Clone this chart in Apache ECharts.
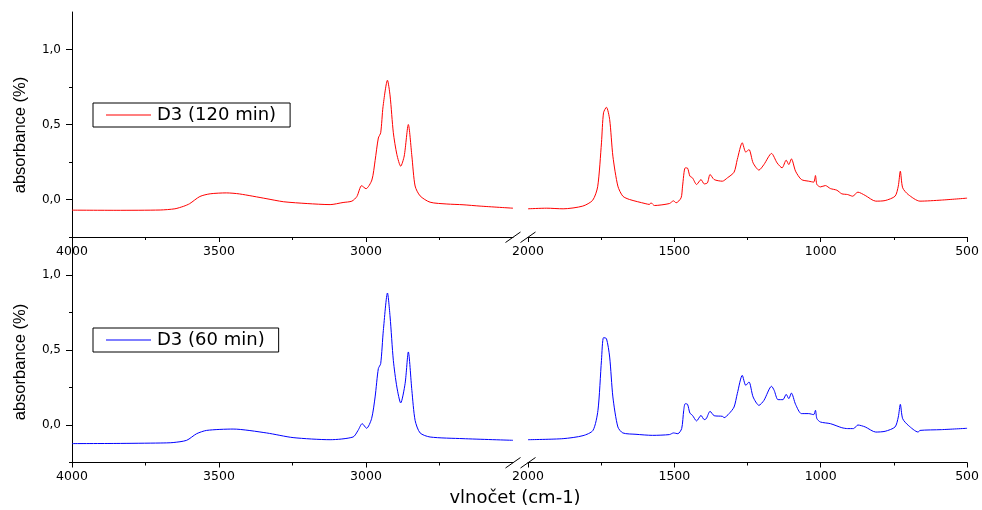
<!DOCTYPE html>
<html>
<head>
<meta charset="utf-8">
<title>FTIR D3</title>
<script src="https://cdn.jsdelivr.net/npm/echarts@6/dist/echarts.min.js"></script>
<style>
  html, body { margin: 0; padding: 0; background: #fff; }
  #main { width: 982px; height: 510px; }
</style>
</head>
<body>
<div id="main"></div>
<script>
// ---- data (wavenumber cm-1 / absorbance) ----
var wn120L = [4000, 3850, 3700, 3650, 3620, 3600, 3565, 3530, 3475, 3430, 3340, 3280, 3200, 3122, 3078, 3048, 3031, 3015, 3000, 2980, 2969, 2958, 2950, 2942, 2927, 2918, 2907, 2895, 2882, 2870, 2856, 2844, 2833, 2816, 2782, 2725, 2670, 2612, 2500];
var ab120L = [-0.071, -0.072, -0.07, -0.062, -0.045, -0.028, 0.02, 0.038, 0.044, 0.037, 0.006, -0.015, -0.027, -0.034, -0.02, -0.011, 0.02, 0.092, 0.072, 0.13, 0.26, 0.41, 0.445, 0.62, 0.795, 0.69, 0.445, 0.30, 0.222, 0.29, 0.50, 0.29, 0.09, 0.024, -0.018, -0.03, -0.035, -0.044, -0.058];
var wn120R = [2000, 1936, 1880, 1813, 1779, 1762, 1749, 1742, 1732, 1721, 1710, 1693, 1676, 1653, 1600, 1585, 1580, 1568, 1517, 1503, 1494, 1477, 1472, 1463, 1455, 1447, 1438, 1424, 1409, 1398, 1387, 1378, 1364, 1336, 1319, 1296, 1285, 1268, 1256, 1245, 1231, 1211, 1194, 1168, 1149, 1132, 1118, 1109, 1100, 1086, 1066, 1041, 1024, 1018, 1013, 1001, 984, 967, 945, 928, 908, 891, 873, 848, 812, 780, 746, 735, 728, 720, 701, 661, 588, 500];
var ab120R = [-0.062, -0.058, -0.062, -0.044, -0.005, 0.085, 0.378, 0.578, 0.615, 0.533, 0.289, 0.089, 0.022, 0.0, -0.027, -0.033, -0.022, -0.04, -0.027, -0.009, -0.022, 0.011, 0.089, 0.211, 0.209, 0.156, 0.144, 0.1, 0.133, 0.104, 0.111, 0.167, 0.133, 0.122, 0.144, 0.182, 0.267, 0.378, 0.316, 0.333, 0.244, 0.196, 0.233, 0.307, 0.244, 0.211, 0.262, 0.233, 0.271, 0.189, 0.133, 0.122, 0.116, 0.16, 0.1, 0.084, 0.093, 0.073, 0.062, 0.038, 0.033, 0.022, 0.049, 0.027, -0.011, -0.007, 0.022, 0.089, 0.189, 0.078, 0.033, -0.011, -0.004, 0.009];

var wn60L = [4000, 3850, 3700, 3656, 3610, 3576, 3542, 3452, 3338, 3248, 3122, 3044, 3027, 3013, 2998, 2981, 2969, 2958, 2950, 2941, 2927, 2918, 2907, 2895, 2882, 2867, 2856, 2844, 2833, 2816, 2782, 2670, 2500];
var ab60L = [-0.124, -0.123, -0.12, -0.117, -0.102, -0.058, -0.036, -0.027, -0.053, -0.084, -0.098, -0.08, -0.036, 0.009, -0.022, 0.042, 0.187, 0.376, 0.409, 0.631, 0.88, 0.72, 0.431, 0.253, 0.147, 0.276, 0.487, 0.231, 0.031, -0.053, -0.08, -0.091, -0.102];
var wn60R = [2000, 1880, 1812, 1778, 1761, 1749, 1742, 1732, 1721, 1710, 1693, 1676, 1631, 1575, 1517, 1503, 1488, 1475, 1468, 1463, 1455, 1447, 1438, 1424, 1409, 1398, 1391, 1378, 1364, 1336, 1330, 1313, 1296, 1285, 1268, 1256, 1245, 1231, 1211, 1194, 1168, 1159, 1146, 1129, 1118, 1109, 1100, 1086, 1066, 1041, 1024, 1018, 1013, 1001, 967, 928, 908, 888, 873, 848, 812, 780, 746, 735, 728, 720, 701, 667, 661, 588, 500];
var ab60R = [-0.098, -0.091, -0.071, -0.036, 0.098, 0.431, 0.582, 0.576, 0.453, 0.187, -0.013, -0.053, -0.062, -0.069, -0.064, -0.053, -0.058, -0.024, 0.098, 0.142, 0.138, 0.08, 0.064, 0.027, 0.064, 0.036, 0.042, 0.091, 0.062, 0.058, 0.049, 0.076, 0.12, 0.209, 0.331, 0.264, 0.287, 0.187, 0.131, 0.164, 0.258, 0.231, 0.169, 0.169, 0.204, 0.176, 0.213, 0.138, 0.076, 0.076, 0.069, 0.098, 0.042, 0.02, 0.009, -0.018, -0.024, -0.024, 0.0, -0.013, -0.047, -0.042, -0.013, 0.053, 0.138, 0.042, -0.002, -0.047, -0.036, -0.031, -0.022];

var xTicksL = [3000, 3500, 4000];
var xTicksR = [500, 1000, 1500, 2000];
var yTicks = [0, 0.5, 1.0];
var yMinor = [-0.25, 0.25, 0.75];
var name120 = 'D3 (120 min)';
var name60 = 'D3 (60 min)';

function zip(a, b) {
  var out = [];
  for (var i = 0; i < a.length; i++) out.push([a[i], b[i]]);
  return out;
}

// ---- layout ----
var LX = 72, LW = 441, RX = 528, RW = 442;
var T1 = 12, T2 = 237.5, H = 225;
var FONT = 'DejaVu Sans';

function grid(left, top, width) {
  return { left: left, top: top, width: width, height: H, containLabel: false };
}

function xAxis(gi, isLeft) {
  return {
    gridIndex: gi, type: 'value', inverse: true,
    min: isLeft ? 2500 : 500, max: isLeft ? 4000 : 2000, interval: 500,
    axisLine: { show: true, onZero: false, lineStyle: { color: '#000', width: 1 } },
    axisTick: { show: true, length: 5, customValues: isLeft ? xTicksL : xTicksR, lineStyle: { color: '#000' } },
    minorTick: { show: true, splitNumber: 2, length: 3, lineStyle: { color: '#000' } },
    axisLabel: { customValues: isLeft ? xTicksL : xTicksR, formatter: function (v) { return String(v); },
      color: '#000', fontFamily: FONT, fontSize: 12.5, margin: 8 },
    splitLine: { show: false }
  };
}

function yFmt(v) { return v.toFixed(1).replace('.', ','); }

function yMajor(gi) {
  return {
    gridIndex: gi, type: 'value', min: -0.25, max: 1.25,
    axisLine: { show: true, onZero: false, lineStyle: { color: '#000', width: 1 } },
    axisTick: { show: true, length: 6, customValues: yTicks, lineStyle: { color: '#000' } },
    axisLabel: { customValues: yTicks, formatter: yFmt, color: '#000', fontFamily: FONT, fontSize: 12, margin: 11 },
    splitLine: { show: false }
  };
}
function yMinorAxis(gi) {
  return {
    gridIndex: gi, type: 'value', min: -0.25, max: 1.25, position: 'left',
    axisLine: { show: false },
    axisTick: { show: true, length: 3, customValues: yMinor, lineStyle: { color: '#000' } },
    axisLabel: { show: false },
    splitLine: { show: false }
  };
}
function yHidden(gi) {
  return { gridIndex: gi, type: 'value', min: -0.25, max: 1.25, show: false, splitLine: { show: false } };
}

function line(name, color, xi, yi, data) {
  return {
    name: name, type: 'line', xAxisIndex: xi, yAxisIndex: yi,
    data: data, symbol: 'none', smooth: 0.25, animation: false,
    lineStyle: { color: color, width: 1 }, itemStyle: { color: color }
  };
}

function legend(name, top) {
  return {
    data: [name], left: 93, top: top, orient: 'horizontal',
    icon: 'rect', itemWidth: 45, itemHeight: 1, itemGap: 0,
    padding: [3, 14, 3, 13],
    borderColor: '#000', borderWidth: 1, borderRadius: 0, backgroundColor: '#fff',
    textStyle: { color: '#000', fontFamily: FONT, fontSize: 18, lineHeight: 17, padding: [0, 0, 0, 1] }
  };
}

function slash(cx, cy) {
  return { type: 'line', silent: true, z: 100,
    shape: { x1: cx - 7.5, y1: cy + 5.5, x2: cx + 7.5, y2: cy - 5 },
    style: { stroke: '#000', lineWidth: 1 } };
}

var chart = echarts.init(document.getElementById('main'), null, { renderer: 'canvas' });
var option = {
  backgroundColor: '#fff',
  animation: false,
  grid: [grid(LX, T1, LW), grid(RX, T1, RW), grid(LX, T2, LW), grid(RX, T2, RW)],
  xAxis: [xAxis(0, true), xAxis(1, false), xAxis(2, true), xAxis(3, false)],
  yAxis: [yMajor(0), yMinorAxis(0), yHidden(1), yMajor(2), yMinorAxis(2), yHidden(3)],
  legend: [legend(name120, 103), legend(name60, 328)],
  series: [
    line(name120, '#ff0000', 0, 0, zip(wn120L, ab120L)),
    line(name120, '#ff0000', 1, 2, zip(wn120R, ab120R)),
    line(name60, '#0000ff', 2, 3, zip(wn60L, ab60L)),
    line(name60, '#0000ff', 3, 5, zip(wn60R, ab60R))
  ],
  graphic: [
    slash(LX + LW, T1 + H), slash(RX, T1 + H),
    slash(LX + LW, T2 + H), slash(RX, T2 + H),
    { type: 'text', x: 20, y: 135, rotation: Math.PI / 2,
      style: { text: 'absorbance (%)', fill: '#000', font: '16.5px "Liberation Sans", Arial, sans-serif', align: 'center', verticalAlign: 'middle' } },
    { type: 'text', x: 20, y: 362, rotation: Math.PI / 2,
      style: { text: 'absorbance (%)', fill: '#000', font: '16.5px "Liberation Sans", Arial, sans-serif', align: 'center', verticalAlign: 'middle' } },
    { type: 'text', x: 515, y: 498,
      style: { text: 'vlnočet (cm-1)', fill: '#000', font: '18px "DejaVu Sans", sans-serif', align: 'center', verticalAlign: 'middle' } }
  ]
};
chart.setOption(option);
</script>
</body>
</html>
